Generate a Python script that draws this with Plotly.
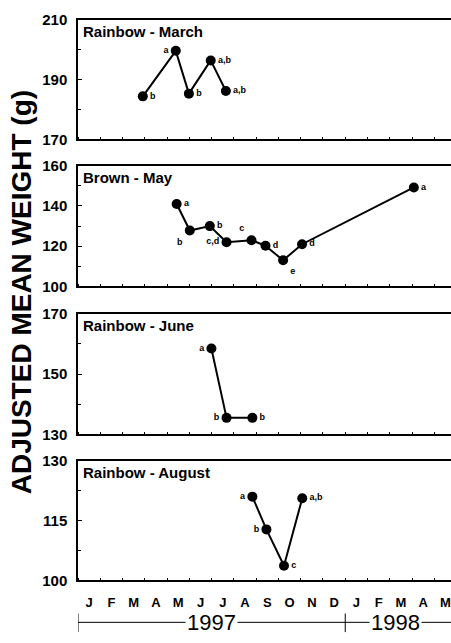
import plotly.graph_objects as go

# ---------------- data ----------------
# x = months since 1 Jan 1997 (0 = start of Jan 1997)
months = ["J", "F", "M", "A", "M", "J", "J", "A", "S", "O", "N", "D",
          "J", "F", "M", "A", "M"]

march_x = [2.91, 4.39, 4.98, 5.96, 6.64]
march_y = [184.4, 199.6, 185.3, 196.4, 186.2]
march_lbl = ["b", "a", "b", "a,b", "a,b"]

may_x = [4.43, 5.02, 5.92, 6.67, 7.79, 8.42, 9.21, 10.06, 15.08]
may_y = [141.0, 127.8, 130.0, 122.0, 123.0, 120.2, 113.0, 121.0, 149.2]
may_lbl = ["a", "b", "b", "c,d", "c", "d", "e", "d", "a"]

june_x = [5.99, 6.67, 7.83]
june_y = [158.5, 135.5, 135.5]
june_lbl = ["a", "b", "b"]

aug_x = [7.83, 8.46, 9.25, 10.07]
aug_y = [121.0, 112.8, 103.7, 120.6]
aug_lbl = ["a", "b", "c", "a,b"]

titles = ["Rainbow - March", "Brown - May", "Rainbow - June", "Rainbow - August"]
y_ranges = [[170, 210], [100, 160], [130, 170], [100, 130]]
y_ticks = [[170, 190, 210], [100, 120, 140, 160], [130, 150, 170], [100, 115, 130]]
year_labels = ["1997", "1998"]

# ---------------- style ----------------
W, H = 451, 643
L = 78
pos_march = ["middle right", "middle left", "middle right", "middle right", "middle right"]
pos_may = ["middle right", "bottom left", "middle right", "middle left", "top left",
           "middle right", "bottom right", "middle right", "middle right"]
pos_june = ["middle left", "middle left", "middle right"]
pos_aug = ["middle left", "middle left", "middle right", "middle right"]

panels_px = [(11, 134), (161, 285), (313, 437), (464, 587)]  # top,bottom pixels
FONT = "Liberation Sans, Arial, sans-serif"

series = [
    (march_x, march_y, march_lbl, pos_march),
    (may_x, may_y, may_lbl, pos_may),
    (june_x, june_y, june_lbl, pos_june),
    (aug_x, aug_y, aug_lbl, pos_aug),
]

fig = go.Figure()
xmax = (W - L) / 22.27

for i, (xs, ys, lbl, pos) in enumerate(series):
    n = i + 1
    xa = "x" if n == 1 else f"x{n}"
    ya = "y" if n == 1 else f"y{n}"
    fig.add_trace(go.Scatter(
        x=xs, y=ys, text=lbl, textposition=pos,
        mode="lines+markers+text",
        line=dict(color="black", width=2),
        marker=dict(color="black", size=10),
        textfont=dict(family=FONT, size=9, color="black", weight="bold"),
        xaxis=xa, yaxis=ya, showlegend=False, cliponaxis=False,
        hoverinfo="skip",
    ))
    top, bot = panels_px[i]
    dom = [(H - bot) / H, (H - top) / H]
    yr = y_ranges[i]
    step = y_ticks[i][1] - y_ticks[i][0]
    fig.layout[f"yaxis{'' if n == 1 else n}"] = dict(
        domain=dom, range=yr, tickvals=y_ticks[i],
        ticks="inside", ticklen=4, tickwidth=1.2, tickcolor="black",
        showline=True, linecolor="black", linewidth=1.5, mirror=False,
        showgrid=False, zeroline=False, anchor=xa, ticklabelstandoff=6,
        tickfont=dict(family=FONT, size=15, color="black", weight="bold"),
        minor=dict(tickmode="array",
                   tickvals=[v + step / 2 for v in y_ticks[i][:-1]],
                   ticks="inside", ticklen=3, tickcolor="black"),
    )
    fig.layout[f"xaxis{'' if n == 1 else n}"] = dict(
        domain=[0, 1], range=[0, xmax], anchor=ya,
        tickvals=[k + 0.5 for k in range(len(months))], ticktext=months,
        ticks="", showticklabels=(n == 4), ticklabelstandoff=9,
        showline=True, linecolor="black", linewidth=1.5, mirror=True,
        showgrid=False, zeroline=False,
        tickfont=dict(family=FONT, size=13, color="black", weight="bold"),
        minor=dict(tickmode="array", tickvals=list(range(0, 18)),
                   ticks="inside", ticklen=3, tickcolor="black"),
    )
    fig.add_annotation(
        text=f"<b>{titles[i]}</b>", xref="paper", yref="paper",
        x=3 / (W - L), y=(H - top - 12) / H, xanchor="left", yanchor="middle",
        showarrow=False, font=dict(family=FONT, size=15, color="black"),
    )

# y-axis title
fig.add_annotation(
    text="<b>ADJUSTED MEAN WEIGHT (g)</b>", xref="paper", yref="paper",
    x=-(L - 21) / (W - L), y=(H - 291) / H, xanchor="center", yanchor="middle",
    textangle=-90, showarrow=False, font=dict(family=FONT, size=28, color="black"),
)

# year bracket under the month axis
yl = (H - 630) / H
fig.add_shape(type="line", xref="x4", yref="paper", x0=0, x1=xmax + 0.3, y0=yl, y1=yl,
              line=dict(color="black", width=1))
for xb in [0, 12]:
    fig.add_shape(type="line", xref="x4", yref="paper", x0=xb, x1=xb,
                  y0=(H - 640) / H, y1=(H - 621) / H, line=dict(color="black", width=1))
for txt, xc in zip(year_labels, [6.0, 14.25]):
    fig.add_annotation(text=txt, xref="x4", yref="paper", x=xc, y=yl,
                       xanchor="center", yanchor="middle", showarrow=False,
                       bgcolor="white", borderpad=1,
                       font=dict(family=FONT, size=22, color="black"))

fig.update_layout(
    width=W, height=H, margin=dict(l=L, r=0, t=0, b=0),
    paper_bgcolor="white", plot_bgcolor="white",
)
fig.write_html(
    "out.html",
    config={"displayModeBar": False},
    post_script="document.body.style.margin='0';"
                "document.documentElement.style.overflow='hidden';"
                "document.body.style.overflow='hidden';",
)
